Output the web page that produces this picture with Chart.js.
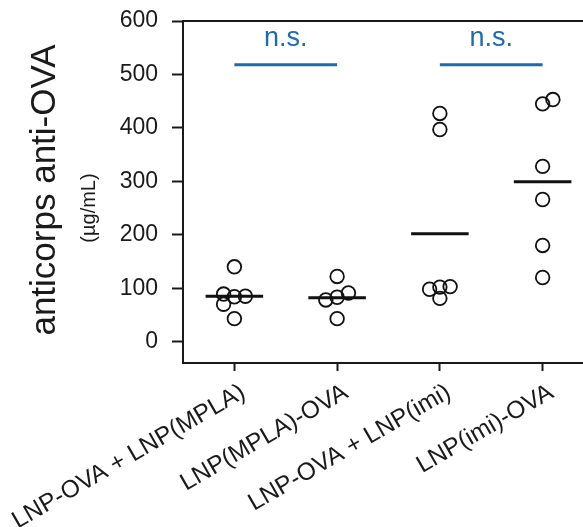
<!DOCTYPE html>
<html>
<head>
<meta charset="utf-8">
<script src="https://cdn.jsdelivr.net/npm/chart.js@4.4.1/dist/chart.umd.min.js"></script>
<style>
  html, body { margin: 0; padding: 0; background: #fff; overflow: hidden; }
  #wrap { width: 620px; height: 527px; }
</style>
</head>
<body>
<div id="wrap"><canvas id="grafico" width="620" height="527"></canvas></div>
<script>
// categorías del eje x
const categorias = ['LNP-OVA + LNP(MPLA)', 'LNP(MPLA)-OVA', 'LNP-OVA + LNP(imi)', 'LNP(imi)-OVA'];

// valores individuales (µg/mL), con su desplazamiento horizontal
const grupo1 = [140, 89, 84, 85, 70, 43];
const desp1  = [0, -0.105, 0, 0.107, -0.105, 0];
const grupo2 = [122, 78, 83, 91, 43];
const desp2  = [0, -0.11, 0, 0.11, 0];
const grupo3 = [427, 397, 98, 102, 103, 81];
const desp3  = [0, 0, -0.1, 0, 0.1, 0];
const grupo4 = [445, 453, 328, 266, 180, 120];
const desp4  = [0, 0.1, 0, 0, 0, 0];

// medias (línea negra)
const medias = [85, 82, 202, 299];

// comparaciones "n.s."
const pares = [[0, 1], [2, 3]];
const alturaNS = 518;

// marcas del eje y
const marcasY = [0, 100, 200, 300, 400, 500, 600];

const colores = {
    texto: '#1a1a1a',
    eje: '#1a1a1a',
    azul: '#1d6bab'
};
const fuente = "'Liberation Sans', Arial, sans-serif";

// construir los puntos de cada grupo
const grupos = [grupo1, grupo2, grupo3, grupo4];
const desplazamientos = [desp1, desp2, desp3, desp4];
const puntos = [];
grupos.forEach((g, i) => {
    g.forEach((v, j) => puntos.push({ x: i + desplazamientos[i][j], y: v }));
});

const lineasMedia = [];
medias.forEach((m, i) => {
    lineasMedia.push({ x: i - 0.28, y: m }, { x: i + 0.28, y: m }, { x: i, y: null });
});

const lineasNS = [];
pares.forEach(p => {
    lineasNS.push({ x: p[0], y: alturaNS }, { x: p[1], y: alturaNS }, { x: p[1], y: null });
});

// plugin: borde superior y derecho del marco
const marco = {
    id: 'marco',
    beforeDatasetsDraw(chart) {
        const a = chart.chartArea;
        const ctx = chart.ctx;
        ctx.save();
        ctx.strokeStyle = colores.eje;
        ctx.lineWidth = 2;
        ctx.beginPath();
        ctx.moveTo(a.left, a.top);
        ctx.lineTo(a.right, a.top);
        ctx.lineTo(a.right, a.bottom);
        ctx.stroke();
        ctx.restore();
    }
};

// plugin: textos "n.s." y título del eje y
const textos = {
    id: 'textos',
    afterDatasetsDraw(chart) {
        const ctx = chart.ctx;
        const xs = chart.scales.x;
        const ys = chart.scales.y;
        ctx.save();
        ctx.fillStyle = colores.azul;
        ctx.font = '27px ' + fuente;
        ctx.textAlign = 'center';
        ctx.textBaseline = 'alphabetic';
        pares.forEach(p => {
            const cx = (xs.getPixelForValue(p[0]) + xs.getPixelForValue(p[1])) / 2;
            ctx.fillText('n.s.', cx, ys.getPixelForValue(alturaNS) - 19);
        });

        ctx.fillStyle = colores.texto;
        ctx.translate(55, 190);
        ctx.rotate(-Math.PI / 2);
        ctx.font = '35px ' + fuente;
        ctx.fillText('anticorps anti-OVA', 0, 0);
        ctx.restore();

        ctx.save();
        ctx.fillStyle = colores.texto;
        ctx.translate(95, 208);
        ctx.rotate(-Math.PI / 2);
        ctx.textAlign = 'center';
        ctx.font = '20px ' + fuente;
        ctx.fillText('(µg/mL)', 0, 0);
        ctx.restore();
    }
};

new Chart(document.getElementById('grafico'), {
    type: 'scatter',
    data: {
        datasets: [
            {
                label: 'medias',
                data: lineasMedia,
                showLine: true,
                spanGaps: false,
                borderColor: '#111',
                borderWidth: 3,
                pointRadius: 0
            },
            {
                label: 'n.s.',
                data: lineasNS,
                showLine: true,
                spanGaps: false,
                borderColor: colores.azul,
                borderWidth: 3,
                pointRadius: 0
            },
            {
                label: 'anticorps',
                data: puntos,
                pointStyle: 'circle',
                pointRadius: 6.8,
                borderWidth: 1.8,
                borderColor: '#111',
                backgroundColor: 'rgba(0,0,0,0)'
            }
        ]
    },
    options: {
        responsive: false,
        animation: false,
        devicePixelRatio: 1,
        layout: { padding: { top: 21, right: 26, left: 0, bottom: 0 } },
        plugins: {
            legend: { display: false },
            tooltip: { enabled: false }
        },
        scales: {
            x: {
                type: 'linear',
                min: -0.5,
                max: 3.5,
                afterBuildTicks: function(scale) {
                    scale.ticks = categorias.map((c, i) => ({ value: i }));
                },
                afterFit: function(scale) {
                    scale.height = 164;
                    scale.paddingLeft = 0;
                    scale.paddingRight = 0;
                },
                ticks: {
                    autoSkip: false,
                    minRotation: 30,
                    maxRotation: 30,
                    padding: 7,
                    labelOffset: 9,
                    color: colores.texto,
                    font: { family: fuente, size: 24.5 },
                    callback: function(value) {
                        return categorias[value];
                    }
                },
                grid: {
                    drawOnChartArea: false,
                    drawTicks: true,
                    tickLength: 8,
                    tickWidth: 2,
                    tickColor: colores.eje
                },
                border: { display: true, color: colores.eje, width: 2 }
            },
            y: {
                min: -40,
                max: 600,
                afterBuildTicks: function(scale) {
                    scale.ticks = marcasY.map(v => ({ value: v }));
                },
                afterFit: function(scale) {
                    scale.width = 183;
                    scale.paddingTop = 0;
                    scale.paddingBottom = 0;
                },
                ticks: {
                    padding: 14,
                    color: colores.texto,
                    font: { family: fuente, size: 23 }
                },
                grid: {
                    drawOnChartArea: false,
                    drawTicks: true,
                    tickLength: 11,
                    tickWidth: 2,
                    tickColor: colores.eje
                },
                border: { display: true, color: colores.eje, width: 2 }
            }
        }
    },
    plugins: [marco, textos]
});
</script>
</body>
</html>
